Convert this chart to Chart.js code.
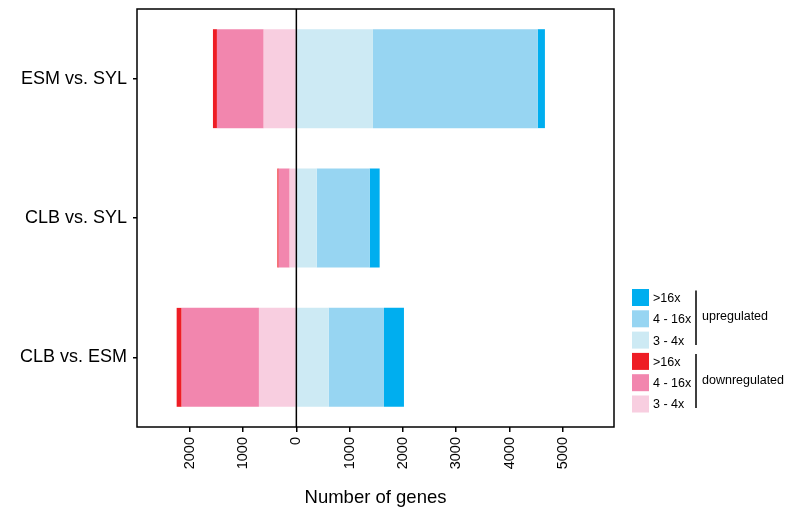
<!DOCTYPE html>
<html>
<head>
<meta charset="utf-8">
<script src="https://cdn.jsdelivr.net/npm/chart.js@4"></script>
<style>
  body { margin: 0; background: #fff; }
</style>
</head>
<body>
<canvas id="myChart" width="786" height="510"></canvas>
<script>
const categories = ['ESM vs. SYL', 'CLB vs. SYL', 'CLB vs. ESM']

// upregulated (positive side)
const up3to4 = [1437, 381, 606]
const up4to16 = [3090, 994, 1038]
const up16 = [137, 188, 375]

// downregulated (negative side)
const down3to4 = [-613, -126, -702]
const down4to16 = [-877, -206, -1450]
const down16 = [-75, -24, -94]

const tickValues = [-2000, -1000, 0, 1000, 2000, 3000, 4000, 5000]

const FONT = "Arial, 'Liberation Sans', sans-serif"

const data = {
    labels: categories,
    datasets: [
        { label: '3 - 4x', data: up3to4, backgroundColor: '#cdeaf4' },
        { label: '4 - 16x', data: up4to16, backgroundColor: '#97d5f2' },
        { label: '>16x', data: up16, backgroundColor: '#00aeef' },
        { label: '3 - 4x', data: down3to4, backgroundColor: '#f8cee0' },
        { label: '4 - 16x', data: down4to16, backgroundColor: '#f286ae' },
        { label: '>16x', data: down16, backgroundColor: '#ee1d25' },
    ]
}

// frame, zero line and the bracketed legend
const extras = {
    id: 'extras',
    afterDatasetsDraw(chart) {
        const ctx = chart.ctx
        const a = chart.chartArea
        const x0 = chart.scales.x.getPixelForValue(0)
        ctx.save()
        ctx.strokeStyle = '#000'
        ctx.lineWidth = 1.5
        ctx.beginPath()
        ctx.moveTo(x0, a.top)
        ctx.lineTo(x0, a.bottom)
        ctx.stroke()
        ctx.strokeRect(a.left, a.top, a.right - a.left, a.bottom - a.top)
        ctx.restore()
    },
    afterDraw(chart) {
        const ctx = chart.ctx
        const ds = chart.data.datasets
        const order = [2, 1, 0, 5, 4, 3]
        const x = 632, size = 17, top = 289, step = 21.3
        ctx.save()
        ctx.font = '12.5px ' + FONT
        ctx.textBaseline = 'middle'
        ctx.fillStyle = '#000'
        order.forEach((i, k) => {
            const y = top + k * step
            ctx.fillStyle = ds[i].backgroundColor
            ctx.fillRect(x, y, size, size)
            ctx.fillStyle = '#000'
            ctx.fillText(ds[i].label, x + 21, y + size / 2 + 1)
        })
        ctx.strokeStyle = '#000'
        ctx.lineWidth = 1.5
        ctx.beginPath()
        ctx.moveTo(696, 290.5); ctx.lineTo(696, 345)
        ctx.moveTo(696, 354); ctx.lineTo(696, 408)
        ctx.stroke()
        ctx.fillText('upregulated', 702, 317)
        ctx.fillText('downregulated', 702, 381)
        ctx.restore()
    }
}

const config = {
    type: 'bar',
    data: data,
    options: {
        indexAxis: 'y',
        responsive: false,
        animation: false,
        devicePixelRatio: 1,
        layout: { padding: { top: 9, right: 172, left: 0, bottom: 0 } },
        datasets: { bar: { categoryPercentage: 1, barPercentage: 0.71, borderWidth: 0 } },
        plugins: { legend: { display: false }, tooltip: { enabled: false } },
        scales: {
            x: {
                stacked: true,
                min: -2990,
                max: 5960,
                afterBuildTicks: (scale) => { scale.ticks = tickValues.map(v => ({ value: v })) },
                afterFit: (scale) => { scale.height = 83 },
                border: { display: false },
                grid: { drawOnChartArea: false, drawTicks: true, tickLength: 5, color: '#000', lineWidth: 1.5 },
                ticks: {
                    minRotation: 90, maxRotation: 90, padding: 5,
                    color: '#000', font: { family: FONT, size: 14.5 },
                    callback: (v) => Math.abs(v)
                },
                title: {
                    display: true, text: 'Number of genes', color: '#000',
                    font: { family: FONT, size: 18.5 }, padding: { top: 4, bottom: 1 }
                }
            },
            y: {
                stacked: true,
                afterFit: (scale) => {
                    scale.width = 137
                    scale.paddingTop = 0
                    scale.paddingBottom = 0
                },
                border: { display: false },
                grid: { offset: false, drawOnChartArea: false, drawTicks: true, tickLength: 4, color: '#000', lineWidth: 1.5 },
                ticks: { padding: 6, color: '#000', font: { family: FONT, size: 18 } }
            }
        }
    },
    plugins: [extras]
}

const myChart = new Chart(document.getElementById('myChart'), config)
</script>
</body>
</html>
